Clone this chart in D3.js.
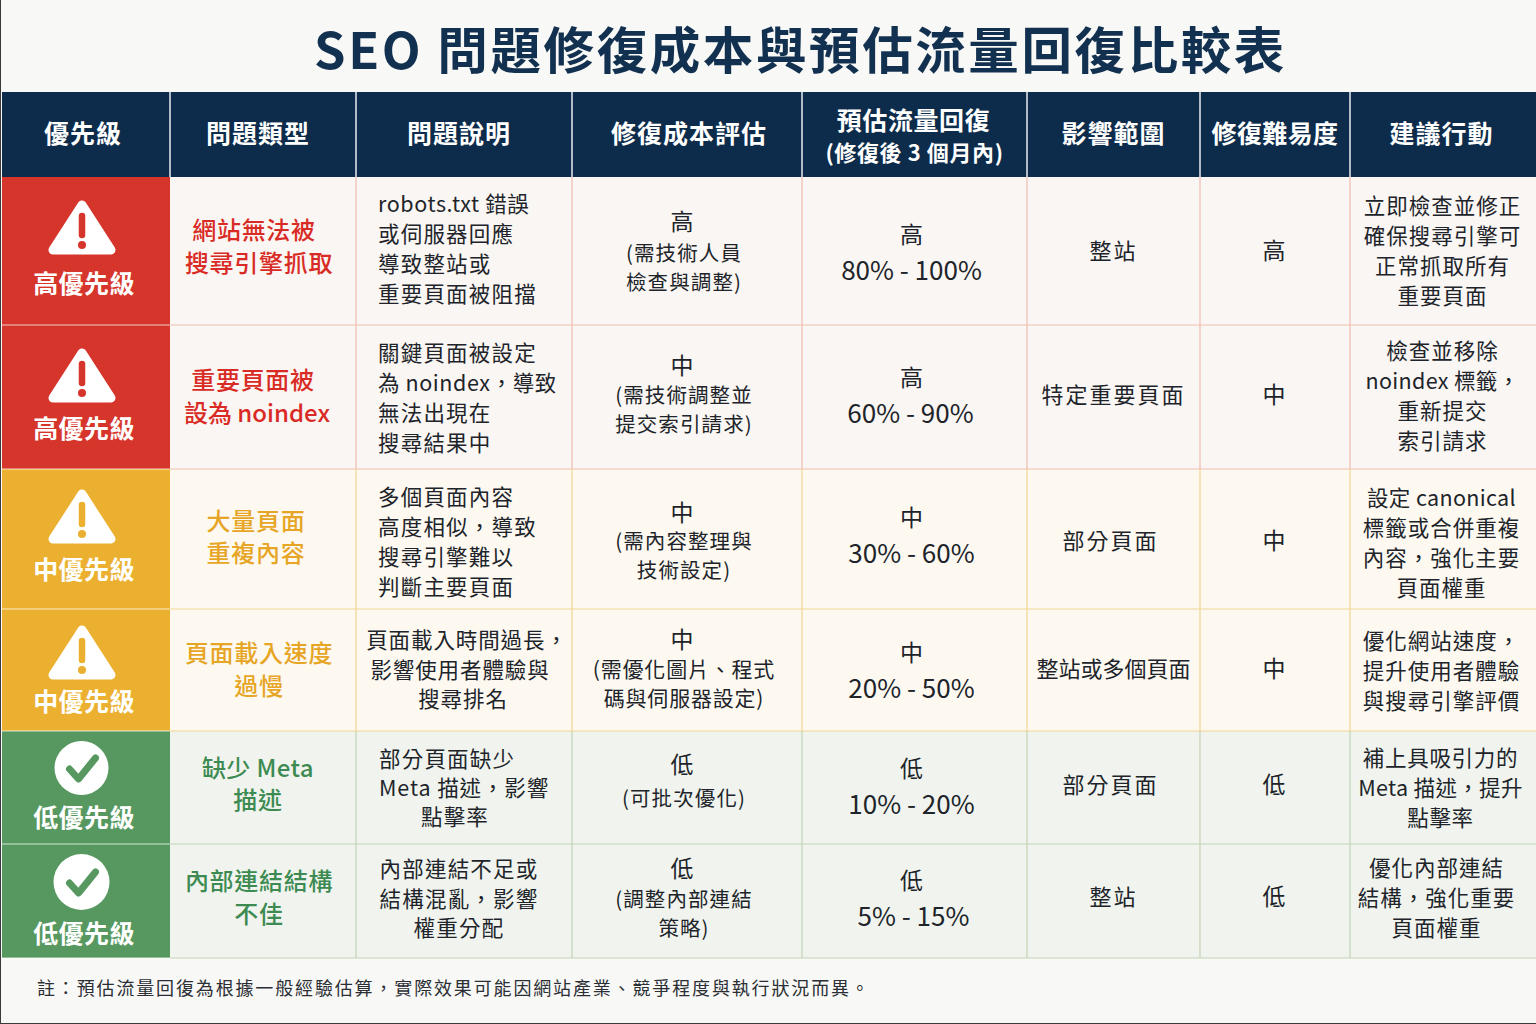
<!DOCTYPE html>
<html lang="zh-Hant"><head><meta charset="utf-8">
<script src="https://cdn.jsdelivr.net/npm/d3@7/dist/d3.min.js"></script>
<style>html,body{margin:0;padding:0;background:#f8f8f6}svg{display:block}text{font-family:"Noto Sans CJK TC","Noto Sans",sans-serif}</style>
</head><body><svg id="c" width="1536" height="1024"></svg>
<script>
const titleText = "SEO 問題修復成本與預估流量回復比較表";
const noteText = "註：預估流量回復為根據一般經驗估算，實際效果可能因網站產業、競爭程度與執行狀況而異。";
const columns = ["優先級","問題類型","問題說明","修復成本評估","預估流量回復","影響範圍","修復難易度","建議行動"];
const priorities = ["高優先級","高優先級","中優先級","中優先級","低優先級","低優先級"];
const tiers = ["high","high","mid","mid","low","low"];
const issueTypes = [["網站無法被","搜尋引擎抓取"],["重要頁面被","設為 noindex"],["大量頁面","重複內容"],["頁面載入速度","過慢"],["缺少 Meta","描述"],["內部連結結構","不佳"]];
const descriptions = [["robots.txt 錯誤","或伺服器回應","導致整站或","重要頁面被阻擋"],["關鍵頁面被設定","為 noindex，導致","無法出現在","搜尋結果中"],["多個頁面內容","高度相似，導致","搜尋引擎難以","判斷主要頁面"],["頁面載入時間過長，","影響使用者體驗與","搜尋排名"],["部分頁面缺少","Meta 描述，影響","點擊率"],["內部連結不足或","結構混亂，影響","權重分配"]];
const costLevels = ["高","中","中","中","低","低"];
const costNotes = [["(需技術人員","檢查與調整)"],["(需技術調整並","提交索引請求)"],["(需內容整理與","技術設定)"],["(需優化圖片、程式","碼與伺服器設定)"],["(可批次優化)"],["(調整內部連結","策略)"]];
const trafficLevels = ["高","高","中","中","低","低"];
const trafficRanges = ["80% - 100%","60% - 90%","30% - 60%","20% - 50%","10% - 20%","5% - 15%"];
const scopes = ["整站","特定重要頁面","部分頁面","整站或多個頁面","部分頁面","整站"];
const difficulty = ["高","中","中","中","低","低"];
const actions = [["立即檢查並修正","確保搜尋引擎可","正常抓取所有","重要頁面"],["檢查並移除","noindex 標籤，","重新提交","索引請求"],["設定 canonical","標籤或合併重複","內容，強化主要","頁面權重"],["優化網站速度，","提升使用者體驗","與搜尋引擎評價"],["補上具吸引力的","Meta 描述，提升","點擊率"],["優化內部連結","結構，強化重要","頁面權重"]];

// layout (separate from data)
const colEdges=[2,170,356,572,802,1027,1200,1350,1537];
const rowEdges=[92,177,325,469,609,731,844,958];
const rowIdx=d3.range(6);
const X=d3.scaleOrdinal().domain(d3.range(9)).range(colEdges);
const Y=d3.scaleOrdinal().domain(d3.range(8)).range(rowEdges);
const cx=i=>(X(i)+X(i+1))/2;
const cy=r=>(Y(r+1)+Y(r+2))/2;
const tierFill=d3.scaleOrdinal().domain(["high","mid","low"]).range(["#d6352b","#ebb02f","#56985f"]);
const tierBg=d3.scaleOrdinal().domain(["high","mid","low"]).range(["#faf6f3","#fdf9f1","#f1f4ee"]);
const tierLine=d3.scaleOrdinal().domain(["high","mid","low"]).range(["#eebdb0","#f2d593","#c3d3b5"]);
const tierText=d3.scaleOrdinal().domain(["high","mid","low"]).range(["#d92b25","#e7a526","#3d8b52"]);
const ink="#20242a";
const iconTop=[23,23,20,16,37,38], labelTop=[107,104,101,93,87,90];

const svg=d3.select("#c");
svg.append("rect").attr("width",1536).attr("height",1024).attr("fill","#f8f8f6");
const txt=(g,x,y,s,size,w,fill,ls,anchor)=>g.append("text").attr("x",x).attr("y",y-2).attr("text-anchor",anchor||"middle")
  .attr("dominant-baseline","central").attr("font-size",size).attr("font-weight",w).attr("fill",fill).attr("letter-spacing",ls).text(s);
txt(svg,800.5,49,titleText,50.5,700,"#12304f",2.6);

// header
svg.append("rect").attr("x",2).attr("y",Y(0)).attr("width",1534).attr("height",Y(1)-Y(0)).attr("fill","#0d2c4b");
const head=svg.append("g");
columns.forEach((c,i)=>{
  if(i===4){txt(head,cx(i)-1,121,c,25,700,"#fff",0.6);txt(head,cx(i),153,"(修復後 3 個月內)",22,700,"#fff",0.6);}
  else txt(head,cx(i)-(i==0?3:i==1?5:i==2?5:i==3?-2:i==5?0:i==7?2:0),134,c,25,700,"#fff",i==6?0.4:1);
});
head.selectAll("line").data(d3.range(1,8)).join("line").attr("x1",X).attr("x2",X).attr("y1",Y(0)).attr("y2",Y(1)).attr("stroke","#e8edf2").attr("stroke-width",1.5);

// body backgrounds & grid
const body=svg.append("g");
body.selectAll("rect.bg").data(rowIdx).join("rect").attr("class","bg").attr("x",X(1)).attr("y",r=>Y(r+1)).attr("width",1536-X(1)).attr("height",r=>Y(r+2)-Y(r+1)).attr("fill",r=>tierBg(tiers[r]));
body.selectAll("rect.pr").data(rowIdx).join("rect").attr("class","pr").attr("x",X(0)).attr("y",r=>Y(r+1)).attr("width",X(1)-X(0)).attr("height",r=>Y(r+2)-Y(r+1)).attr("fill",r=>tierFill(tiers[r]));
rowIdx.forEach(r=>{
  d3.range(2,8).forEach(c=>body.append("line").attr("x1",X(c)).attr("x2",X(c)).attr("y1",Y(r+1)).attr("y2",Y(r+2)).attr("stroke",tierLine(tiers[r])).attr("stroke-width",1.2));
  body.append("line").attr("x1",X(1)).attr("x2",1536).attr("y1",Y(r+2)).attr("y2",Y(r+2)).attr("stroke",tierLine(tiers[r])).attr("stroke-width",1.2);
  body.append("line").attr("x1",X(0)).attr("x2",X(1)).attr("y1",Y(r+2)).attr("y2",Y(r+2)).attr("stroke","#ffffff").attr("stroke-opacity",.75).attr("stroke-width",1.2);
});

// priority column
rowIdx.forEach(r=>{
  const top=Y(r+1), fill=tierFill(tiers[r]), g=body.append("g");
  if(tiers[r]!=="low"){
    const i=g.append("g").attr("transform",`translate(82,${top+iconTop[r]})`);
    i.append("path").attr("d","M0 5 L29 50 L-29 50 Z").attr("fill","#fff").attr("stroke","#fff").attr("stroke-width",9).attr("stroke-linejoin","round");
    i.append("line").attr("x1",0).attr("x2",0).attr("y1",16).attr("y2",35).attr("stroke",fill).attr("stroke-width",6.5).attr("stroke-linecap","round");
    i.append("circle").attr("cy",45).attr("r",4).attr("fill",fill);
  } else {
    const i=g.append("g").attr("transform",`translate(81.5,${top+iconTop[r]})`);
    i.append("circle").attr("r",r==4?27:28).attr("fill","#fff");
    i.append("path").attr("d","M-12 1 L-3 11 L14 -10").attr("fill","none").attr("stroke",fill).attr("stroke-width",7).attr("stroke-linecap","round").attr("stroke-linejoin","round");
  }
  txt(g,84,top+labelTop[r],priorities[r],25,700,"#fff",0.4);
});

// text columns
const isLatin=s=>/[a-z]{3}/i.test(s);
const lines=(g,x,y,arr,lh,size,w,fill,ls,anchor,lsL)=>arr.forEach((s,i)=>txt(g,x,y+(i-(arr.length-1)/2)*lh,s,size,w,fill,isLatin(s)?lsL:ls,anchor));
const typeDx=[-4,-7,-7,-4,-5,-4], typeDy=[-4,0,-1.5,0,-3,-3];
const descDy=[-1.5,1,3,0,1,-2], descDx=[0,0,0,0,-9,-5];
const row3DescDx=[3,-4,-1];
const actDy=[0,-1,4,1,1,-3], actDx=[-1,-1,-2,-2,-3,-7];
const scopeDx=[0,0,-3,0,-3,0], scopeLs=[2,2,2,0,2,2], cellDy=[0,-2,2,-1,-2.5,-4];
const costTop=[222,366,513,640,765,869], noteDy=[268.5,410.5,556.5,684.5,799,914.5];
const trafficTop=[235,378,518,653,769,881], trafficDx=[-3,-4,-3,-3,-3,-1];
rowIdx.forEach(r=>{
  const g=body.append("g"), t=tiers[r];
  issueTypes[r].forEach((s,i)=>{
    const n=issueTypes[r].length;
    txt(g,cx(1)+typeDx[r]+(r==0&&i==0?-5:r==1&&i==0?-3:0)+(r==1&&i==1?1:0),cy(r)+typeDy[r]+(i-(n-1)/2)*32.5,s,24,500,tierText(t),isLatin(s)?(r==1?0:0.4):0.7);
  });
  if(r<3) lines(g,378,cy(r)+descDy[r],descriptions[r],30,21.5,400,ink,1.2,"start",0.6);
  else if(r===3) descriptions[r].forEach((s,i)=>txt(g,cx(2)+row3DescDx[i],cy(r)+(i-1)*29.5,s,21.5,400,ink,0.9));
  else if(r===4){ const y=cy(r)+1; txt(g,379,y-29,descriptions[r][0],21.5,400,ink,1.2,"start"); txt(g,379,y,descriptions[r][1],21.5,400,ink,0.9,"start"); txt(g,455,y+29,descriptions[r][2],21.5,400,ink,1.2); }
  else lines(g,cx(2)+descDx[r],cy(r)+descDy[r],descriptions[r],29.5,21.5,400,ink,1.2,"middle",0.8);
  txt(g,682,costTop[r],costLevels[r],23,400,ink,0);
  lines(g,684,noteDy[r],costNotes[r],29,r==3?21:20.5,400,ink,r==3?0.8:1.1);
  txt(g,cx(4)-3,trafficTop[r],trafficLevels[r],23,400,ink,0);
  txt(g,cx(4)+trafficDx[r],trafficTop[r]+35.5,trafficRanges[r],26,400,ink,0);
  txt(g,cx(5)+scopeDx[r],cy(r)+cellDy[r],scopes[r],22,400,ink,scopeLs[r]);
  txt(g,cx(6)-1,cy(r)+cellDy[r],difficulty[r],23,400,ink,0);
  lines(g,cx(7)+actDx[r],cy(r)+actDy[r],actions[r],30,21.5,400,ink,r==4?0.7:1,"middle",0.35);
});

txt(svg,37,989,noteText,18,400,"#2b2f35",1.85,"start");
svg.append("line").attr("x1",0.5).attr("x2",0.5).attr("y1",0).attr("y2",1024).attr("stroke","#3a3a3a").attr("stroke-width",1);
svg.append("line").attr("x1",0).attr("x2",1536).attr("y1",1023.5).attr("y2",1023.5).attr("stroke","#3a3a3a").attr("stroke-width",1);
</script></body></html>
